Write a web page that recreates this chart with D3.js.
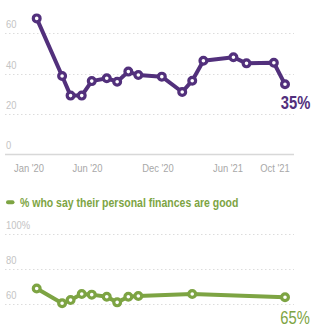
<!DOCTYPE html>
<html><head><meta charset="utf-8">
<script src="https://cdn.jsdelivr.net/npm/d3@7"></script>
<style>
html,body{margin:0;padding:0;background:#fff;}
svg{display:block;font-family:"Liberation Sans Narrow","Arial Narrow","Liberation Sans",Arial,sans-serif;}
</style></head>
<body><svg id="c" width="328" height="328"></svg>
<script>
const topDates = ["2020-01-21","2020-03-27","2020-04-18","2020-05-17","2020-06-12","2020-07-21","2020-08-17","2020-09-15","2020-10-11","2020-12-11","2021-02-02","2021-02-28","2021-03-29","2021-06-15","2021-07-19","2021-09-28","2021-10-27"];
const topValues = [67.4,38.8,29.1,29.1,36.3,37.7,36,41,39.3,38.5,30.9,36.5,46.4,48.1,45.1,45.4,34.7];
const bottomDates = ["2020-01-21","2020-03-27","2020-04-18","2020-05-17","2020-06-12","2020-07-21","2020-08-17","2020-09-15","2020-10-11","2021-02-28","2021-10-27"];
const bottomValues = [69,60.6,62.4,65.9,65.5,64.3,61.1,64.3,64.7,65.9,64];
const topTicks = [0,20,40,60];
const bottomTicks = [60,80,100];
const xTickDates = ["2020-01-01","2020-06-01","2020-12-01","2021-06-01","2021-10-01"];
const xTickLabels = ["Jan '20","Jun '20","Dec '20","Jun '21","Oct '21"];
const topEndLabel = "35%";
const bottomEndLabel = "65%";
const legendText = "% who say their personal finances are good";

const purple = "#52307c", green = "#7da443";
const parse = d3.utcParse("%Y-%m-%d");
const svg = d3.select("#c");
const x = d3.scaleUtc().domain([parse("2020-01-01"), parse("2021-10-01")]).range([29, 275]);
const yT = d3.scaleLinear().domain([0,60]).range([154.3,33.3]);
const yB = d3.scaleLinear().domain([60,100]).range([304.3,234]);
const gx0 = 5, gx1 = 294;

function measure(fam){
  const t = svg.append("text").attr("font-family",fam).attr("font-size",20).text("Narrow test 0123");
  const w = t.node().getComputedTextLength(); t.remove(); return w;
}
const wNarrow = measure("'Liberation Sans Narrow', monospace");
const wRegular = measure("'Liberation Sans', monospace");
const SX = (wNarrow < wRegular*0.9) ? 1 : 0.82;

function label(px, py, str, opts){
  return svg.append("text")
    .attr("transform", `translate(${px},${py}) scale(${SX},1)`)
    .attr("text-anchor", opts.anchor||"start")
    .attr("font-size", opts.size).attr("fill", opts.fill)
    .attr("font-weight", opts.weight||"normal").text(str);
}

function grid(scale, ticks, fmt, solidZero){
  ticks.forEach((t,i)=>{
    const yy = Math.round(scale(t))+0.5;
    const solid = solidZero && t===0;
    svg.append("line").attr("x1",gx0).attr("x2",gx1).attr("y1",yy).attr("y2",yy)
      .attr("stroke", solid?"#d8d8d8":"#dcdcdc").attr("stroke-width", solid?1.5:1)
      .attr("stroke-dasharray", solid?null:"1.5,2.5");
    label(6, scale(t)-5, fmt(t,i), {size:11.5, fill:"#c4c4c4"});
  });
}
grid(yT, topTicks, t=>String(t), true);
grid(yB, bottomTicks, (t,i)=> i===bottomTicks.length-1 ? t+"%" : String(t), false);

xTickDates.forEach((d,i)=>label(x(parse(d)), 172, xTickLabels[i], {anchor:"middle", size:11.5, fill:"#a8a8a8"}));

function series(dates, vals, y, color){
  const pts = dates.map((d,i)=>[x(parse(d)), y(vals[i])]);
  svg.append("path").attr("d", d3.line()(pts)).attr("fill","none")
    .attr("stroke",color).attr("stroke-width",4).attr("stroke-linejoin","round");
  svg.append("g").selectAll("circle").data(pts).join("circle")
    .attr("cx",d=>d[0]).attr("cy",d=>d[1]).attr("r",3.4)
    .attr("fill","#fff").attr("stroke",color).attr("stroke-width",3.2);
  return pts;
}
const pT = series(topDates, topValues, yT, purple);
const pB = series(bottomDates, bottomValues, yB, green);

label(pT[pT.length-1][0]+10.5, 108.5, topEndLabel, {anchor:"middle", size:18, weight:"bold", fill:purple});
label(pB[pB.length-1][0]+10, 323.5, bottomEndLabel, {anchor:"middle", size:18, fill:green});

svg.append("line").attr("x1",8).attr("x2",12.5).attr("y1",202.3).attr("y2",202.3)
  .attr("stroke",green).attr("stroke-width",4).attr("stroke-linecap","round");
label(20, 206.5, legendText, {size:12.8, weight:"bold", fill:green});
</script></body></html>
